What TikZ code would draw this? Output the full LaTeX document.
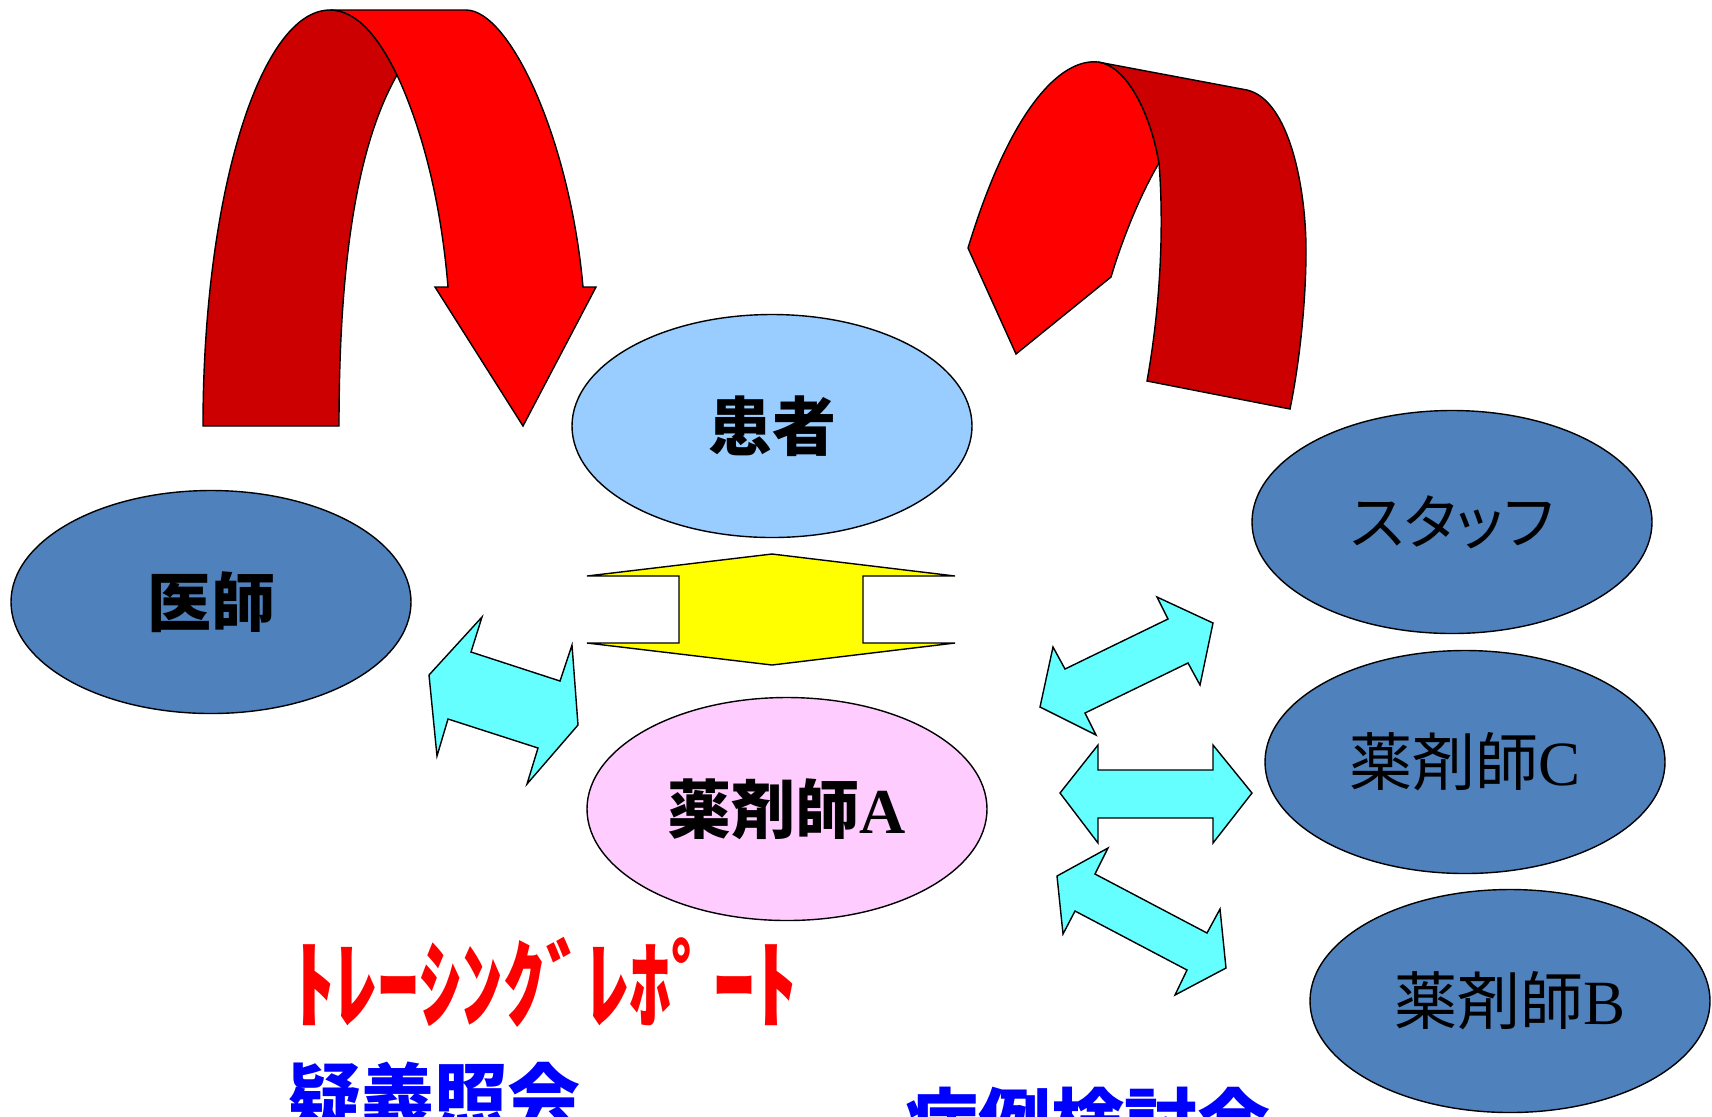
\documentclass[tikz,border=0pt]{standalone}
\usepackage{fontspec}
\usepackage{graphicx}
\newfontfamily\jpfont{Noto Sans CJK JP}
\newfontfamily\jppfont{Noto Sans CJK JP}[RawFeature={+palt}]
\newfontfamily\tmsfont{Liberation Serif}
\usetikzlibrary{shapes.geometric}
\definecolor{nodeblue}{RGB}{79,129,189}
\definecolor{patblue}{RGB}{153,204,255}
\definecolor{pharpink}{RGB}{255,204,255}
\definecolor{brightred}{RGB}{255,0,0}
\definecolor{darkred}{RGB}{204,0,0}
\definecolor{cyanarrow}{RGB}{102,255,255}
\definecolor{yelarrow}{RGB}{255,255,0}
\definecolor{textblue}{RGB}{0,0,255}
\begin{document}
\begin{tikzpicture}[x=0.5pt,y=-0.5pt,
  ell/.style={ellipse, draw=black, line width=0.7pt, minimum width=200pt, minimum height=111.5pt, inner sep=0pt},
  boldlbl/.style={font=\jpfont\bfseries\fontsize{32}{36}\selectfont},
  reglbl/.style={font=\jpfont\fontsize{31.5}{35}\selectfont},
  outline/.style={draw=black, line width=0.7pt, line join=miter},
  brightpart/.style={outline, fill=brightred},
  darkpart/.style={outline, fill=darkred},
  cyanpart/.style={outline, fill=cyanarrow},
  yelpart/.style={outline, fill=yelarrow}]
\useasboundingbox (0,0) rectangle (1712,1116);
\clip (0,0) rectangle (1712,1116);

% ellipses
\node[ell, fill=nodeblue, boldlbl] (doctor) at (211,602) {医師};
\node[ell, fill=patblue, boldlbl] (patient) at (772,426) {患者};
\node[ell, fill=pharpink, boldlbl] (pharmA) at (787,809) {薬剤師{\tmsfont A}};
\node[ell, fill=nodeblue, font=\jppfont\fontsize{30}{34}\selectfont] (staff) at (1452,522) {スタッフ};
\node[ell, fill=nodeblue, reglbl] (pharmC) at (1465,762) {薬剤師{\tmsfont C}};
\node[ell, fill=nodeblue, reglbl] (pharmB) at (1510,1001) {薬剤師{\tmsfont B}};

% left red U-turn arrow
\path[darkpart] (203,426) .. controls (203,196) and (260,10) .. (330,10)
  .. controls (358,10) and (380,40) .. (397,75)
  .. controls (360,140) and (339,250) .. (339,426) -- cycle;
\path[brightpart] (330,10) -- (466,10) .. controls (510,10) and (570,140) .. (583,287)
  -- (596,287) -- (523,426) -- (435,287) -- (448,287)
  .. controls (440,190) and (418,120) .. (397,75)
  .. controls (380,40) and (358,10) .. (330,10) -- cycle;

% right red U-turn arrow
\path[brightpart] (1098,62) .. controls (1060,58) and (1010,110) .. (968,248)
  -- (1016,354) -- (1111,277)
  .. controls (1122,240) and (1140,195) .. (1159,163)
  .. controls (1150,110) and (1125,65) .. (1098,62) -- cycle;
\path[darkpart] (1098,62) -- (1247,90) .. controls (1290,100) and (1306,190) .. (1306,250)
  .. controls (1306,300) and (1300,360) .. (1290,409) -- (1147,381)
  .. controls (1158,320) and (1165,240) .. (1159,163)
  .. controls (1150,110) and (1125,65) .. (1098,62) -- cycle;

% yellow up-down arrow between patient and pharmacist A
\path[yelpart] (772,554) -- (955,576) -- (863,576) -- (863,643) -- (955,643) -- (772,665)
  -- (587,643) -- (679,643) -- (679,576) -- (587,576) -- cycle;

% cyan arrow doctor <-> pharmacist A
\path[cyanpart] (429,675) -- (482,617) -- (471,652) -- (560,681) -- (572,645) -- (578,725)
  -- (527,784) -- (538,748) -- (448,719) -- (437,756) -- cycle;

% cyan arrows pharmacist A <-> staff / C / B
\path[cyanpart] (1213,623) -- (1157,597) -- (1168,619) -- (1065,669) -- (1053,647) -- (1040,707)
  -- (1096,735) -- (1085,713) -- (1188,663) -- (1200,685) -- cycle;
\path[cyanpart] (1060,793) -- (1098,745) -- (1098,770) -- (1213,770) -- (1213,745) -- (1252,793)
  -- (1213,843) -- (1213,818) -- (1098,818) -- (1098,843) -- cycle;
\path[cyanpart] (1057,876) -- (1108,848) -- (1095,874) -- (1207,933) -- (1220,909) -- (1226,968)
  -- (1175,995) -- (1187,970) -- (1075,911) -- (1063,934) -- cycle;

% texts
\node[inner sep=0pt, text=brightred, font=\jpfont\bfseries\fontsize{42}{48}\selectfont] (trace) at (545,982)
  {\scalebox{1}[1.15]{ﾄﾚｰｼﾝｸﾞﾚﾎﾟｰﾄ}};
\node[inner sep=0pt, anchor=base west, text=textblue, font=\jpfont\bfseries\fontsize{36.5}{40}\selectfont] (inquiry) at (288,1124) {疑義照会};
\node[inner sep=0pt, anchor=base west, text=textblue, font=\jpfont\bfseries\fontsize{36.5}{40}\selectfont] (casestudy) at (905,1149) {病例検討会};
\end{tikzpicture}
\end{document}
